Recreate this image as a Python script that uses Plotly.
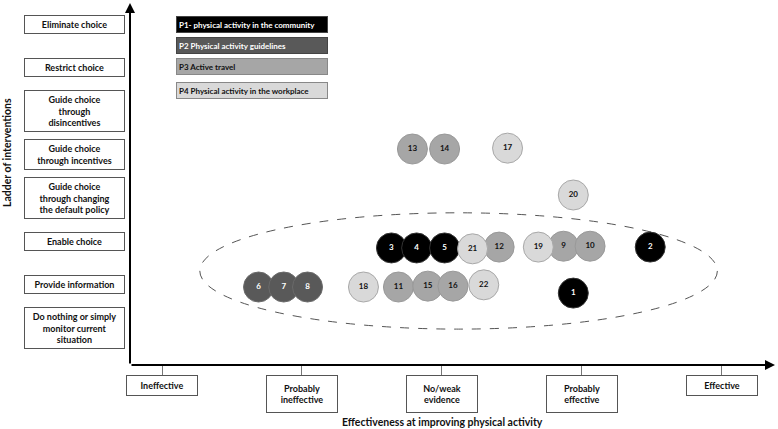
import plotly.graph_objects as go

# ladder of interventions (y levels, bottom to top)
ladder_labels = [
    "Do nothing or simply<br>monitor current<br>situation",
    "Provide information",
    "Enable choice",
    "Guide choice<br>through changing<br>the default policy",
    "Guide choice<br>through incentives",
    "Guide choice<br>through<br>disincentives",
    "Restrict choice",
    "Eliminate choice",
]

# effectiveness categories (x levels)
effect_labels = ["Ineffective", "Probably<br>ineffective", "No/weak<br>evidence",
                 "Probably<br>effective", "Effective"]

# policy groups
group_names = ["P1- physical activity in the community", "P2 Physical activity guidelines",
               "P3 Active travel", "P4 Physical activity in the workplace"]

p1_ids = [1, 2, 3, 4, 5]
p1_x = [2.94, 3.49, 1.64, 1.82, 2.02]
p1_y = [0.80, 1.86, 1.84, 1.84, 1.84]

p2_ids = [6, 7, 8]
p2_x = [0.69, 0.87, 1.04]
p2_y = [0.94, 0.94, 0.94]

p3_ids = [9, 10, 11, 12, 13, 14, 15, 16]
p3_x = [2.87, 3.06, 1.69, 2.41, 1.79, 2.02, 1.90, 2.08]
p3_y = [1.88, 1.88, 0.94, 1.86, 4.12, 4.12, 0.96, 0.96]

p4_ids = [17, 18, 19, 20, 21, 22]
p4_x = [2.47, 1.44, 2.69, 2.94, 2.22, 2.30]
p4_y = [4.14, 0.94, 1.86, 3.06, 1.82, 0.99]

FONT = "Lato"
fills = ["#000000", "#595959", "#a6a6a6", "#d9d9d9"]
edges = ["#333333", "#6a6a6a", "#999999", "#a8a8a8"]
text_cols = ["white", "white", "#111111", "#111111"]

groups = [(p1_ids, p1_x, p1_y), (p2_ids, p2_x, p2_y),
          (p3_ids, p3_x, p3_y), (p4_ids, p4_x, p4_y)]

fig = go.Figure()

# dashed ellipse around the enable/provide rows
fig.add_shape(type="circle", xref="x", yref="y", x0=0.27, x1=3.97, y0=-0.03, y1=2.65,
              line=dict(color="#555555", width=1, dash="dash"), layer="below")

for i, (ids, xs, ys) in enumerate(groups):
    fig.add_trace(go.Scatter(
        x=xs, y=ys, mode="markers+text", text=[str(n) for n in ids],
        textposition="middle center",
        textfont=dict(family=FONT, size=8, color=text_cols[i], weight="bold"),
        marker=dict(size=30, color=fills[i], line=dict(color=edges[i], width=1)),
        name=group_names[i], showlegend=False, hoverinfo="text",
    ))

annotations = []

# legend boxes
legend_top = [24.5, 46, 66, 90]
for i, name in enumerate(group_names):
    annotations.append(dict(
        xref="paper", yref="paper", x=(176 - 130) / 645, y=(365 - legend_top[i]) / 362,
        xanchor="left", yanchor="middle", text=name, showarrow=False, align="left",
        width=146, height=11, borderpad=2, borderwidth=1,
        bordercolor="#444444" if i < 2 else "#888888", bgcolor=fills[i],
        font=dict(family=FONT, size=8, color=text_cols[i], weight="bold"),
    ))

# ladder boxes
for lvl, lab in enumerate(ladder_labels):
    annotations.append(dict(
        xref="paper", yref="y", x=(74 - 130) / 645, y=lvl, xanchor="center", yanchor="middle",
        text=lab, showarrow=False, align="center", width=93, borderpad=3, borderwidth=1,
        bordercolor="#555555", bgcolor="white",
        font=dict(family=FONT, size=9, color="#111111", weight="bold"),
    ))

# effectiveness boxes
for v, lab in enumerate(effect_labels):
    two = "<br>" in lab
    annotations.append(dict(
        xref="x", yref="paper", x=v, y=-0.028, xanchor="center", yanchor="top",
        text=lab, showarrow=False, align="center", width=64, height=30 if two else 13,
        valign="middle", borderpad=3, borderwidth=1, bordercolor="#555555", bgcolor="white",
        font=dict(family=FONT, size=9, color="#111111", weight="bold"),
    ))

# axis arrows
annotations.append(dict(xref="paper", yref="paper", x=0, y=1, ax=0, ay=362, text="",
                        showarrow=True, arrowhead=2, arrowsize=1, arrowwidth=2,
                        arrowcolor="black"))
annotations.append(dict(xref="paper", yref="paper", x=1, y=0, ax=-645, ay=0, text="",
                        showarrow=True, arrowhead=2, arrowsize=1, arrowwidth=2,
                        arrowcolor="black"))

# axis titles
annotations.append(dict(xref="paper", yref="paper", x=(7 - 130) / 645, y=(365 - 152) / 362,
                        text="Ladder of interventions", textangle=-90, showarrow=False,
                        xanchor="center", yanchor="middle",
                        font=dict(family=FONT, size=10.5, color="#111111", weight="bold")))
annotations.append(dict(xref="paper", yref="paper", x=(442 - 130) / 645, y=(365 - 422) / 362,
                        text="Effectiveness at improving physical activity", showarrow=False,
                        xanchor="center", yanchor="middle",
                        font=dict(family=FONT, size=10.5, color="#111111", weight="bold")))

fig.update_layout(
    width=778, height=429,
    margin=dict(l=130, r=3, t=3, b=64),
    plot_bgcolor="white", paper_bgcolor="white",
    xaxis=dict(range=[-0.229, 4.382], showgrid=False, zeroline=False, showline=False,
               tickvals=list(range(len(effect_labels))), showticklabels=False,
               ticks="outside", ticklen=10, tickcolor="#777777", tickwidth=1),
    yaxis=dict(range=[-0.857, 7.484], showgrid=False, zeroline=False, showline=False,
               showticklabels=False, ticks=""),
    annotations=annotations,
    showlegend=False,
)

fig.write_html("out.html", config={"displayModeBar": False},
               post_script="document.body.style.margin='0';")
